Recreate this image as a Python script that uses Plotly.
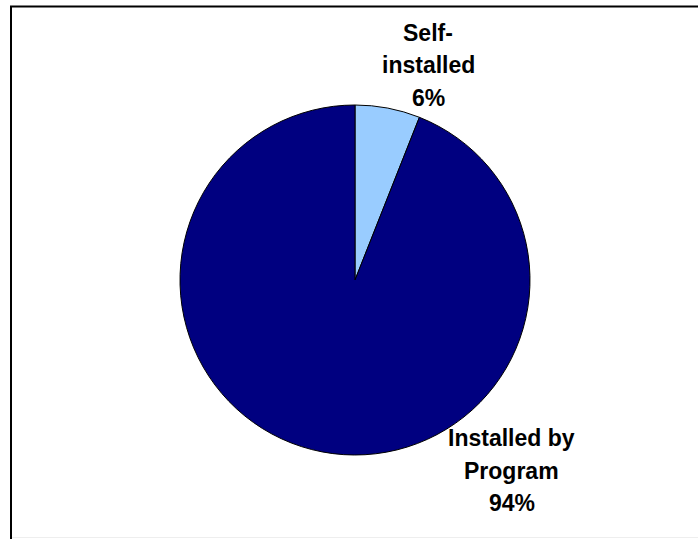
import plotly.graph_objects as go

# Share of installations by who performed them
labels = ["Self-\ninstalled", "Installed by\nProgram"]
values = [6, 94]
colors = ["#99CCFF", "#000080"]

W, H = 698, 539
cx, cy, r = 355, 280, 175  # pie centre and radius in pixels (from top-left)

fig = go.Figure(go.Pie(
    labels=[l.replace("\n", " ") for l in labels],
    values=values,
    sort=False,
    direction="clockwise",
    rotation=0,
    textinfo="none",
    hoverinfo="label+percent",
    marker=dict(colors=colors, line=dict(color="black", width=1)),
    domain=dict(x=[(cx - r) / W, (cx + r) / W],
                y=[(H - cy - r) / H, (H - cy + r) / H]),
    showlegend=False,
))

# Data labels: category name lines followed by the percentage
total = sum(values)
label_pos = [(428, 33), (511.5, 438)]  # centre x, first-line centre y (pixels)
line_gap = 32.5
annotations = []
for lab, val, (lx, ly) in zip(labels, values, label_pos):
    lines = lab.split("\n") + [f"{round(100 * val / total)}%"]
    for i, line in enumerate(lines):
        annotations.append(dict(
            text=f"<b>{line}</b>",
            x=lx / W, y=1 - (ly + i * line_gap) / H,
            xref="paper", yref="paper",
            xanchor="center", yanchor="middle",
            showarrow=False,
            font=dict(family="Liberation Sans, Arial, sans-serif", size=23, color="black"),
        ))

shapes = [
    dict(type="line", xref="paper", yref="paper",
         x0=10 / W, x1=1, y0=1 - 6.5 / H, y1=1 - 6.5 / H,
         line=dict(color="black", width=2)),
    dict(type="line", xref="paper", yref="paper",
         x0=11 / W, x1=11 / W, y0=1 - 6 / H, y1=0,
         line=dict(color="black", width=2)),
    dict(type="line", xref="paper", yref="paper",
         x0=12 / W, x1=1, y0=1 - 537.5 / H, y1=1 - 537.5 / H,
         line=dict(color="#eeeeee", width=1)),
]

fig.update_layout(
    width=W, height=H,
    margin=dict(l=0, r=0, t=0, b=0),
    paper_bgcolor="white",
    plot_bgcolor="white",
    annotations=annotations,
    shapes=shapes,
)

fig.write_html("out.html")
